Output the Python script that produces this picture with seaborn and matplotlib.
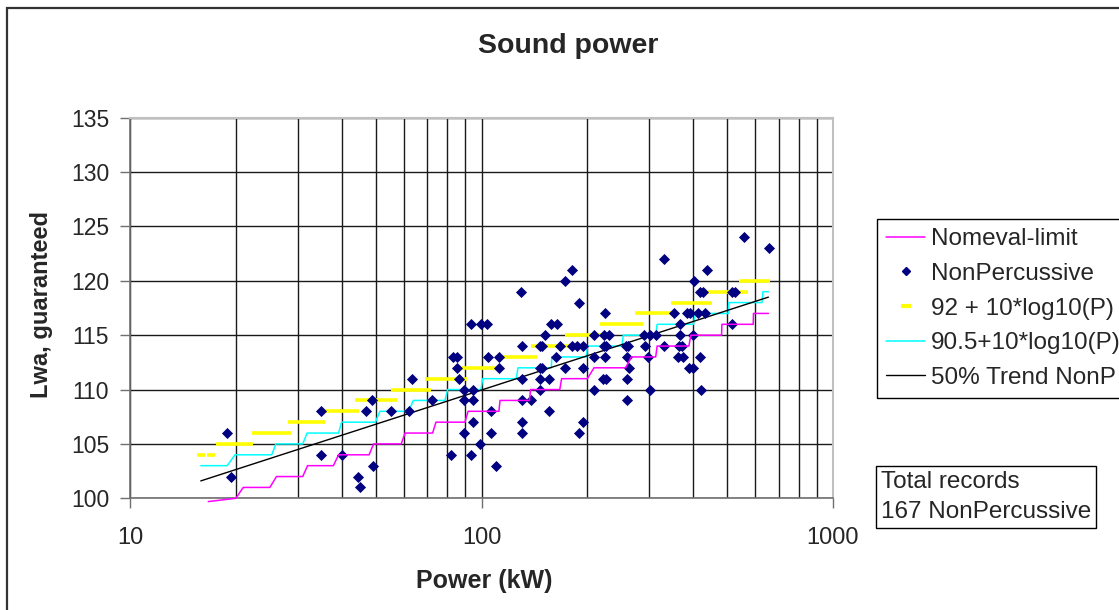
import matplotlib
matplotlib.use("Agg")
import matplotlib.pyplot as plt
from matplotlib.lines import Line2D
from matplotlib.patches import Rectangle
import seaborn as sns
import pandas as pd

# ---------------- data ----------------
power_kw = [18.9, 19.4, 35, 35, 40, 44.5, 45, 46.9, 48.9, 49, 55.3, 62.1, 63.4, 72.5,
            81.9, 83.1, 85.3, 85.4, 86.3, 89, 89, 89, 93.2, 93.2, 94.8, 94.8, 94.8,
            99.2, 99.7, 103.7, 104.6, 106.2, 109.7, 112.1, 112.1, 106.6,
            129.8, 130, 130, 130, 130, 130, 138.3, 146.7, 148.9, 146.7, 155.3, 146.7,
            146.7, 149, 151.6, 155.4, 157.3, 163.6, 163, 167.2, 172.8, 172.8, 180.9,
            181, 186.4, 194, 189.4, 189.4, 194.9, 194, 209.4, 209, 209, 223, 230.5,
            224.5, 223, 226, 224.5, 222, 226, 257.2, 261.1, 259.4, 262, 259, 259,
            290.5, 301.6, 313, 291, 298.3, 300.9, 329.9, 330, 353.7, 367, 367, 365,
            371.5, 362.6, 374.7, 383.5, 391.8, 390, 400, 403.2, 400, 414, 432.5,
            418.5, 426.4, 418, 421, 439, 517, 526, 517, 556.9, 658.8]
lwa_guaranteed = [106, 102, 108, 104, 104, 102, 101, 108, 109, 103, 108, 108, 111, 109,
                  104, 113, 113, 112, 111, 110, 109, 106, 116, 104, 110, 109, 107,
                  105, 116, 116, 113, 106, 103, 113, 112, 108,
                  119, 114, 111, 109, 107, 106, 109, 112, 112, 111, 111, 110,
                  114, 114, 115, 108, 116, 116, 113, 114, 120, 112, 121,
                  114, 114, 114, 118, 106, 107, 112, 115, 113, 110, 115, 115,
                  117, 114, 114, 113, 111, 111, 114, 114, 113, 112, 111, 109,
                  115, 115, 115, 114, 113, 110, 122, 114, 117, 116, 115, 114,
                  114, 113, 113, 117, 117, 112, 112, 120, 115, 117, 117,
                  119, 119, 113, 110, 121, 119, 119, 116, 124, 123]

nomeval_x = [16.7, 20.0, 21.0, 25.0, 26.1, 31.0, 32.0, 37.9, 39.2, 47.9, 49.3, 59.1,
             60.6, 72.6, 74.2, 89.7, 91.6, 112.1, 112.9, 136.9, 137.9, 167, 169, 200,
             209, 257, 267, 313, 316, 389, 394, 482, 483, 593, 594, 655]
nomeval_y = [99.7, 100, 101, 101, 102, 102, 103, 103, 104, 104, 105, 105,
             106, 106, 107, 107, 108, 108, 109, 109, 110, 110, 111, 111,
             112, 112, 113, 113, 114, 114, 115, 115, 116, 116, 117, 117]

limit905_x = [15.9, 18.9, 19.9, 25.3, 26.0, 31.0, 31.9, 39.2, 40.0, 49.9, 51.4, 62.0,
              64.0, 78.7, 80.1, 99.6, 100.8, 125.5, 127, 158, 158.5, 199, 200, 251,
              253, 313, 316, 401, 405, 504, 505, 628, 632, 655]
limit905_y = [103, 103, 104, 104, 105, 105, 106, 106, 107, 107, 108, 108,
              109, 109, 110, 110, 111, 111, 112, 112, 113, 113, 114, 114,
              115, 115, 116, 116, 117, 117, 118, 118, 119, 119]

limit92_level = [104, 104, 105, 106, 107, 108, 109, 110, 111, 112, 113, 114, 115,
                 116, 117, 118, 119, 120]
limit92_start = [15.5, 16.6, 17.6, 22.3, 28.1, 34.7, 43.7, 55.4, 69.1, 87.7, 109.6,
                 138.5, 172.6, 218, 274, 345, 432, 541]
limit92_end = [16.3, 17.4, 22.4, 28.7, 35.9, 44.9, 57.4, 71.7, 91.0, 114.4, 144.3,
               180.6, 228.4, 287.6, 358, 453.5, 573, 662]

trend_x = [15.9, 655]
trend_y = [101.6, 118.5]

x_major = [10, 100, 1000]
x_grid_minor = [20, 30, 40, 50, 60, 70, 80, 90, 200, 300, 400, 500, 600, 700, 800, 900]
y_ticks = [100, 105, 110, 115, 120, 125, 130, 135]

labels = ["Nomeval-limit", "NonPercussive", "92 + 10*log10(P)",
          "90.5+10*log10(P)", "50% Trend NonP"]

# ---------------- style ----------------
sns.set_theme(style="white")
plt.rcParams["font.family"] = ["Liberation Sans", "DejaVu Sans"]

W, H = 1119, 610
fig = plt.figure(figsize=(W / 100, H / 100), dpi=100)
ax = fig.add_axes([130 / W, 1 - 498.3 / H, (833 - 130) / W, (498.3 - 117.7) / H])

pts = pd.DataFrame({"P": power_kw, "L": lwa_guaranteed})
nom = pd.DataFrame({"P": nomeval_x, "L": nomeval_y})
l905 = pd.DataFrame({"P": limit905_x, "L": limit905_y})
tr = pd.DataFrame({"P": trend_x, "L": trend_y})

ax.set_xscale("log")
ax.hlines(limit92_level, limit92_start, limit92_end, colors="#FFFF00", linewidth=2.6, zorder=3)
sns.lineplot(data=l905, x="P", y="L", ax=ax, color="#00FFFF", linewidth=1.1,
             estimator=None, sort=False, zorder=3)
sns.lineplot(data=nom, x="P", y="L", ax=ax, color="#FF00FF", linewidth=1.1,
             estimator=None, sort=False, zorder=6, clip_on=False)
sns.lineplot(data=tr, x="P", y="L", ax=ax, color="black", linewidth=1.0,
             estimator=None, sort=False, zorder=4)
sns.scatterplot(data=pts, x="P", y="L", ax=ax, marker="D", s=32, color="#000080",
                edgecolor="#000080", linewidth=0, zorder=5)

ax.set_xlim(10, 1000)
ax.set_ylim(100, 135)
ax.set_xticks(x_major)
ax.set_xticklabels([str(v) for v in x_major])
ax.set_xticks(x_grid_minor, minor=True)
ax.set_xticklabels([], minor=True)
ax.set_yticks(y_ticks)
ax.set_yticklabels([str(v) for v in y_ticks])
ax.grid(True, which="both", axis="both", color="#1a1a1a", linewidth=1.0, zorder=1)
ax.set_axisbelow(True)

ax.tick_params(axis="x", which="major", direction="out", length=7, width=1,
               color="#707070", pad=14, labelsize=17, bottom=True)
ax.tick_params(axis="x", which="minor", length=0)
ax.tick_params(axis="y", direction="out", length=7, width=1, color="#707070",
               pad=8, labelsize=16.5, left=True)

for side in ["left", "bottom"]:
    ax.spines[side].set_color("#707070")
    ax.spines[side].set_linewidth(1.2)
for side in ["top", "right"]:
    ax.spines[side].set_color("#c0c0c0")
    ax.spines[side].set_linewidth(1.5)

ax.set_xlabel("")
ax.set_ylabel("")

fig.text(484 / W, 1 - 581 / H, "Power (kW)", ha="center", va="center",
         fontsize=18, fontweight="bold")
fig.text(42 / W, 1 - 305 / H, "Lwa, guaranteed", ha="center", va="center",
         rotation=90, fontsize=17, fontweight="bold")
fig.text(568 / W, 1 - 46 / H, "Sound power", ha="center", va="center",
         fontsize=20.5, fontweight="bold")

# outer chart border
fig.patches.append(Rectangle((7 / W, -0.05), 1.2, 1 - 8 / H + 0.05, transform=fig.transFigure,
                             fill=False, edgecolor="#333333", linewidth=1.6))

handles = [
    Line2D([], [], color="#FF00FF", linewidth=1.1),
    Line2D([], [], color="#000080", marker="D", markersize=4, linestyle="none"),
    Line2D([], [], color="#FFFF00", marker="_", markersize=7, markeredgewidth=3,
           linestyle="none"),
    Line2D([], [], color="#00FFFF", linewidth=1.1),
    Line2D([], [], color="black", linewidth=1.0),
]
leg = fig.legend(handles, labels, loc="upper left", bbox_to_anchor=(877 / W, 1 - 219 / H),
                 frameon=True, fancybox=False, edgecolor="black", framealpha=1,
                 fontsize=17.5, handlelength=1.6, handletextpad=0.25, labelspacing=0.52,
                 borderpad=0.38, borderaxespad=0)
leg.get_frame().set_linewidth(1.0)

fig.text(881 / W, 1 - 497 / H, "Total records\n167 NonPercussive", ha="left", va="center",
         fontsize=17.5, linespacing=1.45,
         bbox=dict(boxstyle="square,pad=0.2", facecolor="white", edgecolor="black",
                   linewidth=1.0))

fig.savefig("out.png", dpi=100)
